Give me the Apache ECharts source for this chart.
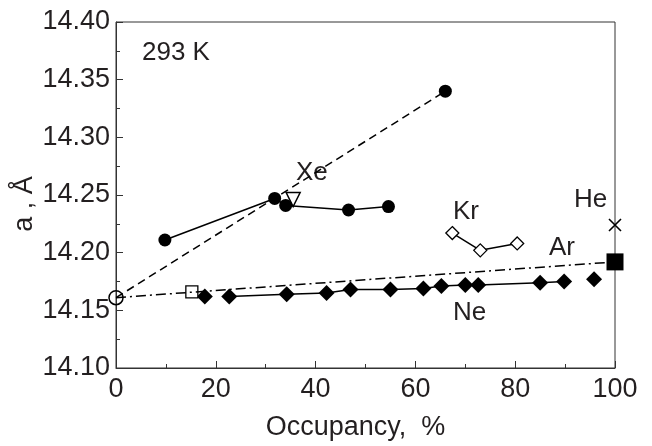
<!DOCTYPE html>
<html>
<head>
<meta charset="utf-8">
<script src="https://cdn.jsdelivr.net/npm/echarts@6/dist/echarts.min.js"></script>
<style>
  html, body { margin: 0; padding: 0; background: #fff; }
  #chart { width: 652px; height: 446px; }
</style>
</head>
<body>
<div id="chart"></div>
<script>
// Xe, filled circles joined by solid line
const xeX = [9.8, 31.8, 34.0, 46.6, 54.6];
const xeY = [14.211, 14.247, 14.241, 14.237, 14.240];
// Xe dashed fit line, empty lattice point to the high-pressure point
const xeFitX = [0, 66.0];
const xeFitY = [14.161, 14.340];
const xeTriX = [35.5];
const xeTriY = [14.246];
// Ne, filled diamonds
const neX = [17.8, 22.7, 34.2, 42.2, 47.0, 55.0, 61.6, 65.2, 70.0, 72.6, 85.0, 89.8, 95.8];
const neY = [14.162, 14.162, 14.164, 14.165, 14.168, 14.168, 14.169, 14.171, 14.172, 14.172, 14.174, 14.175, 14.177];
// Kr, open diamonds
const krX = [67.4, 73.0, 80.4];
const krY = [14.217, 14.202, 14.208];
// Ar dash-dot line, open square and filled square
const arFitX = [0, 100];
const arFitY = [14.161, 14.192];
const arOpenX = [15.2];
const arOpenY = [14.166];
// He cross
const heX = [100];
const heY = [14.224];
// empty framework
const emptyX = [0];
const emptyY = [14.161];

const xTicks = [0, 20, 40, 60, 80, 100];
const yTicks = [14.10, 14.15, 14.20, 14.25, 14.30, 14.35, 14.40];

const pairs = (xs, ys) => xs.map((x, i) => [x, ys[i]]);
const ink = '#231f20';
const font = 'Liberation Sans, Arial, sans-serif';

const chart = echarts.init(document.getElementById('chart'));

function label(text, x, y) {
  return {
    type: 'text', left: x, top: y,
    style: { text: text, fill: ink, font: '26px ' + font }
  };
}

chart.setOption({
  animation: false,
  grid: {
    left: 116, right: 37, top: 22, bottom: 74,
    show: true, borderColor: '#333', borderWidth: 1
  },
  xAxis: {
    type: 'value',
    min: xTicks[0], max: xTicks[xTicks.length - 1], interval: 20,
    axisLine: { lineStyle: { color: '#333', width: 1 } },
    axisTick: { inside: true, length: 7, lineStyle: { color: '#333' } },
    minorTick: { show: true, splitNumber: 2, length: 4, lineStyle: { color: '#333' } },
    splitLine: { show: false },
    axisLabel: { color: ink, fontSize: 27, fontFamily: font, margin: 8 },
    name: 'Occupancy,  %',
    nameLocation: 'middle',
    nameGap: 46,
    nameTextStyle: { color: ink, fontSize: 27, fontFamily: font, padding: [0, 20, 0, 0] }
  },
  yAxis: {
    type: 'value',
    min: yTicks[0], max: yTicks[yTicks.length - 1], interval: 0.05,
    axisLine: { show: true, lineStyle: { color: '#333', width: 1 } },
    axisTick: { show: true, inside: true, length: 7, lineStyle: { color: '#333' } },
    minorTick: { show: true, splitNumber: 2, length: 4, lineStyle: { color: '#333' } },
    splitLine: { show: false },
    axisLabel: {
      color: ink, fontSize: 27, fontFamily: font, margin: 6,
      formatter: v => v.toFixed(2)
    }
  },
  graphic: [
    label('293 K', 142, 40),
    label('Xe', 296, 160),
    label('Kr', 453, 199),
    label('He', 574, 187),
    label('Ar', 549, 235),
    label('Ne', 453, 300),
    {
      type: 'text', x: 25, y: 204, rotation: Math.PI / 2,
      style: {
        text: 'a , Å', fill: ink, font: '27px ' + font,
        align: 'center', verticalAlign: 'middle'
      }
    }
  ],
  series: [
    {
      type: 'line', data: pairs(xeFitX, xeFitY), clip: false,
      symbol: 'none',
      lineStyle: { color: '#000', width: 1.5, type: [8, 5] }
    },
    {
      type: 'line', data: pairs(arFitX, arFitY), clip: false,
      symbol: 'none',
      lineStyle: { color: '#000', width: 1.5, type: [10, 4, 2, 4] }
    },
    {
      type: 'line', data: pairs(xeX, xeY), clip: false,
      symbol: 'circle', symbolSize: 13,
      itemStyle: { color: '#000', opacity: 1 },
      lineStyle: { color: '#000', width: 1.5 }
    },
    {
      type: 'scatter', data: pairs(xeFitX.slice(1), xeFitY.slice(1)),
      symbol: 'circle', symbolSize: 13,
      itemStyle: { color: '#000', opacity: 1 }
    },
    {
      type: 'scatter', data: pairs(xeTriX, xeTriY),
      symbol: 'triangle', symbolRotate: 180, symbolSize: 14,
      itemStyle: { color: '#fff', borderColor: '#000', borderWidth: 1.5, opacity: 1 }
    },
    {
      type: 'line', data: pairs(neX.slice(1, 12), neY.slice(1, 12)), clip: false,
      symbol: 'none',
      lineStyle: { color: '#000', width: 1.5 }
    },
    {
      type: 'scatter', data: pairs(neX, neY),
      symbol: 'diamond', symbolSize: [16, 16],
      itemStyle: { color: '#000', opacity: 1 }
    },
    {
      type: 'line', data: pairs(krX, krY), clip: false,
      symbol: 'diamond', symbolSize: [13, 13],
      itemStyle: { color: '#fff', borderColor: '#000', borderWidth: 1.3, opacity: 1 },
      lineStyle: { color: '#000', width: 1.5 }
    },
    {
      type: 'scatter', data: pairs(arOpenX, arOpenY),
      symbol: 'rect', symbolSize: 12,
      itemStyle: { color: '#fff', borderColor: '#000', borderWidth: 1.3, opacity: 1 }
    },
    {
      type: 'scatter', data: pairs(arFitX.slice(1), arFitY.slice(1)), clip: false,
      symbol: 'rect', symbolSize: 17,
      itemStyle: { color: '#000', opacity: 1 }
    },
    {
      type: 'scatter', data: pairs(heX, heY), clip: false,
      symbol: 'path://M0,0L10,10M10,0L0,10', symbolSize: 12,
      itemStyle: { color: 'none', borderColor: '#000', borderWidth: 1.6, opacity: 1 }
    },
    {
      type: 'scatter', data: pairs(emptyX, emptyY), clip: false,
      symbol: 'circle', symbolSize: 14,
      itemStyle: { color: 'rgba(255,255,255,0)', borderColor: '#000', borderWidth: 1.5, opacity: 1 },
      z: 5
    }
  ]
});
</script>
</body>
</html>
